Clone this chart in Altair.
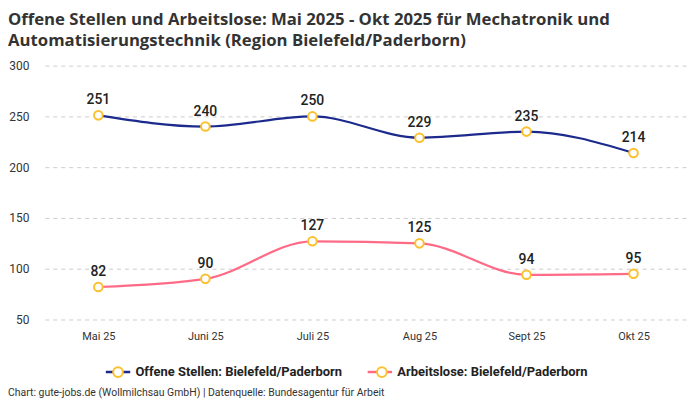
import altair as alt
import pandas as pd

months = ["Mai 25", "Juni 25", "Juli 25", "Aug 25", "Sept 25", "Okt 25"]
offene = [251, 240, 250, 229, 235, 214]
arbeitslose = [82, 90, 127, 125, 94, 95]
series_names = ["Offene Stellen: Bielefeld/Paderborn", "Arbeitslose: Bielefeld/Paderborn"]
series_colors = ["#1b2a8c", "#ff6b86"]
title_lines = [
    "Offene Stellen und Arbeitslose: Mai 2025 - Okt 2025 für Mechatronik und",
    "Automatisierungstechnik (Region Bielefeld/Paderborn)",
]
footer = "Chart: gute-jobs.de (Wollmilchsau GmbH) | Datenquelle: Bundesagentur für Arbeit"

rows = []
for name, vals in zip(series_names, [offene, arbeitslose]):
    for m, v in zip(months, vals):
        rows.append({"Monat": m, "Wert": v, "Serie": name, "Marker": name})
df = pd.DataFrame(rows)

FONT = "Roboto"
x = alt.X("Monat:N", sort=months, title=None,
          axis=alt.Axis(labelAngle=0, ticks=False, domain=False, grid=False,
                        labelFontSize=11, labelColor="#333", labelPadding=11,
                        labelFont=FONT))
y = alt.Y("Wert:Q", title=None, scale=alt.Scale(domain=[50, 300], nice=False, zero=False),
          axis=alt.Axis(values=[50, 100, 150, 200, 250, 300], ticks=False, domain=False,
                        grid=True, gridColor="#cccccc", gridDash=[4, 4], gridWidth=1,
                        labelFontSize=12, labelColor="#333", labelPadding=16,
                        labelFont=FONT))

base = alt.Chart(df)

legend_common = dict(orient="none", legendX=60, legendY=294, direction="horizontal",
                     title=None, symbolSize=600, labelFontSize=13,
                     labelFontWeight="bold", labelLimit=400, labelFont=FONT)

lines = base.mark_line(interpolate="monotone", strokeWidth=2.2).encode(
    x=x, y=y,
    color=alt.Color("Serie:N", sort=series_names,
                    scale=alt.Scale(domain=series_names, range=series_colors),
                    legend=alt.Legend(symbolType="stroke", symbolStrokeWidth=2.5,
                                      labelColor="#222", columnPadding=20,
                                      **legend_common)),
)

points = base.mark_point(shape="circle", size=75, filled=True, stroke="#fbc02d",
                         strokeWidth=2, opacity=1).encode(
    x=x, y=y,
    fill=alt.Fill("Marker:N", sort=series_names,
                  scale=alt.Scale(range=["white", "white"]),
                  legend=alt.Legend(symbolType="M-0.4,0A0.4,0.4 0 1,1 0.4,0A0.4,0.4 0 1,1 -0.4,0Z",
                                    symbolStrokeColor="#fbc02d", symbolStrokeWidth=2,
                                    labelExpr="''", columnPadding=234,
                                    **legend_common)),
)

labels = base.mark_text(dy=-15, fontSize=14, fontWeight=500, color="#222", font=FONT).encode(
    x=x, y=y, text="Wert:Q")

foot = alt.Chart(pd.DataFrame({"t": [footer]})).mark_text(
    align="left", baseline="middle", fontSize=10.5, color="#333", font=FONT
).encode(text="t:N", x=alt.value(-37), y=alt.value(329))

chart = alt.layer(lines, points, labels, foot).properties(
    width=645, height=255,
    title=alt.TitleParams(title_lines, anchor="start", frame="bounds", fontSize=16.8,
                          fontWeight="bold", color="#333", font="Open Sans", offset=10,
                          lineHeight=21),
    padding={"left": 0, "top": 3, "right": 5, "bottom": 0},
).configure_view(stroke=None)

chart.save("out.html", embed_options={"renderer": "svg", "actions": False})
